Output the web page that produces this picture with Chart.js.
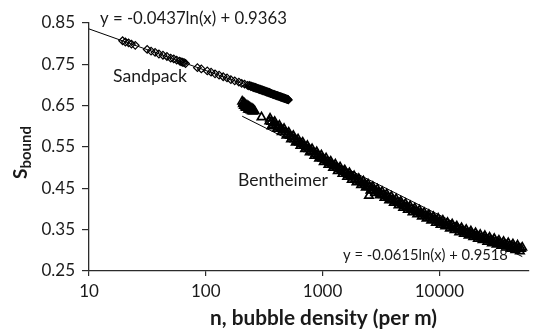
<!DOCTYPE html>
<html>
<head>
<meta charset="utf-8">
<script src="https://cdn.jsdelivr.net/npm/chart.js@4/dist/chart.umd.min.js"></script>
<style>
  html, body { margin: 0; padding: 0; background: #fff; }
  #wrap { width: 535px; height: 335px; }
</style>
</head>
<body>
<div id="wrap"><canvas id="c" width="535" height="335"></canvas></div>
<script>
// Bubble density n (per m) and bound saturation for the sandpack runs
const sandpackX = [19.4, 20.5, 21.8, 23.1, 24.9, 31.5, 34.0, 36.8, 39.7, 43.0, 46.5, 50.1, 53.2, 56.4, 59.8, 61.5, 63.4, 65.2, 67.1,
  84.8, 91.6, 103, 111, 120, 130, 141, 152, 164, 177, 192, 203, 215, 228,
  234, 243, 251, 257, 263, 269, 275, 282, 288, 295, 302, 309, 316, 324, 331, 339, 347, 355, 363, 372, 380, 389, 398, 407,
  417, 427, 437, 447, 457, 468, 479, 490, 501, 509,
  238, 247, 254, 260, 266, 272, 278, 285, 292, 298, 305, 313, 320, 327, 335, 343, 351, 359, 367, 376, 384, 393, 402, 412,
  422, 432, 442, 452, 463, 473, 484, 495, 505];
const sandpackY = [0.807, 0.804, 0.802, 0.799, 0.796, 0.786, 0.782, 0.779, 0.775, 0.772, 0.769, 0.765, 0.763, 0.760, 0.758, 0.756, 0.755, 0.754, 0.752,
  0.742, 0.739, 0.734, 0.731, 0.727, 0.724, 0.720, 0.717, 0.713, 0.710, 0.707, 0.704, 0.702, 0.699,
  0.698, 0.696, 0.695, 0.694, 0.693, 0.692, 0.691, 0.690, 0.689, 0.688, 0.687, 0.686, 0.685, 0.684, 0.683, 0.682, 0.681, 0.680, 0.679, 0.678, 0.677, 0.676, 0.675, 0.674,
  0.673, 0.672, 0.671, 0.670, 0.669, 0.668, 0.667, 0.666, 0.665, 0.664,
  0.699, 0.697, 0.696, 0.695, 0.694, 0.693, 0.692, 0.691, 0.690, 0.689, 0.688, 0.687, 0.686, 0.685, 0.684, 0.683, 0.682, 0.680, 0.679, 0.678, 0.677, 0.676, 0.675, 0.674,
  0.673, 0.672, 0.671, 0.670, 0.669, 0.668, 0.667, 0.666, 0.665];

// Bubble density n (per m) and bound saturation for the Bentheimer runs
const bentheimerX = [205, 208, 210, 212, 215, 218, 220, 222, 226, 230, 232, 235, 238, 241, 244, 247, 250, 253, 256, 262,
  300, 350, 366,
  355, 372, 389, 407, 427, 447, 468, 490, 513, 537,
  562, 589, 617, 646, 676, 708, 741, 776, 813, 851,
  891, 933, 977, 1023, 1072, 1122, 1175, 1230, 1288, 1349,
  1413, 1479, 1549, 1622, 1698, 1778, 1862, 1950, 2042, 2138,
  2239, 2344, 2455, 2570, 2692, 2818, 2951, 3090, 3236, 3388,
  3548, 3715, 3890, 4074, 4266, 4467, 4677, 4898, 5129, 5370,
  5623, 5888, 6166, 6457, 6761, 7079, 7413, 7762, 8128, 8511,
  8913, 9333, 9772, 10233, 10715, 11220, 11749, 12303, 12882, 13490,
  14125, 14791, 15488, 16218, 16982, 17783, 18621, 19498, 20417, 21380,
  22387, 23442, 24547, 25704, 26915, 28184, 29512, 30903, 32359, 33884,
  35481, 37154, 38905, 40738, 42658, 44668, 46774, 48978, 51286,
  363, 380, 398, 417, 437, 457, 479, 501, 525, 550,
  575, 603, 631, 661, 692, 724, 759, 794, 832, 871,
  912, 955, 1000, 1047, 1096, 1148, 1202, 1259, 1318, 1380,
  1445, 1514, 1585, 1660, 1738, 1820, 1905, 1995, 2089, 2188,
  2291, 2399, 2512, 2630, 2754, 2884, 3020, 3162, 3311, 3467,
  3631, 3802, 3981, 4169, 4365, 4571, 4786, 5012, 5248, 5495,
  5754, 6026, 6310, 6607, 6918, 7244, 7586, 7943, 8318, 8710,
  9120, 9550, 10000, 10471, 10965, 11482, 12023, 12589, 13183, 13804,
  14454, 15136, 15849, 16596, 17378, 18197, 19055, 19953, 20893, 21878,
  22909, 23988, 25119, 26303, 27542, 28840, 30200, 31623, 33113, 34674,
  36308, 38019, 39811, 41687, 43652, 45709, 47863, 50119,
  2495];
const bentheimerY = [0.660, 0.654, 0.657, 0.650, 0.655, 0.646, 0.652, 0.645, 0.650, 0.641, 0.648, 0.640, 0.646, 0.639, 0.644, 0.637, 0.642, 0.636, 0.640, 0.637,
  0.622, 0.612, 0.600,
  0.619, 0.603, 0.611, 0.594, 0.602, 0.586, 0.594, 0.578, 0.585, 0.569,
  0.577, 0.561, 0.569, 0.553, 0.561, 0.545, 0.553, 0.537, 0.545, 0.529,
  0.538, 0.522, 0.530, 0.514, 0.523, 0.507, 0.515, 0.500, 0.508, 0.492,
  0.501, 0.485, 0.494, 0.478, 0.487, 0.471, 0.480, 0.465, 0.473, 0.458,
  0.467, 0.452, 0.460, 0.445, 0.454, 0.439, 0.448, 0.433, 0.442, 0.427,
  0.436, 0.421, 0.430, 0.415, 0.424, 0.409, 0.418, 0.403, 0.413, 0.398,
  0.407, 0.392, 0.402, 0.387, 0.397, 0.382, 0.391, 0.377, 0.386, 0.372,
  0.381, 0.367, 0.377, 0.362, 0.372, 0.358, 0.367, 0.353, 0.363, 0.349,
  0.358, 0.344, 0.354, 0.340, 0.350, 0.336, 0.346, 0.332, 0.342, 0.328,
  0.338, 0.325, 0.335, 0.321, 0.331, 0.317, 0.328, 0.314, 0.324, 0.311,
  0.321, 0.307, 0.318, 0.304, 0.315, 0.301, 0.312, 0.298, 0.307,
  0.611, 0.607, 0.602, 0.598, 0.594, 0.590, 0.586, 0.581, 0.577, 0.573,
  0.569, 0.565, 0.561, 0.557, 0.553, 0.549, 0.545, 0.541, 0.537, 0.533,
  0.530, 0.526, 0.522, 0.518, 0.515, 0.511, 0.507, 0.504, 0.500, 0.497,
  0.493, 0.490, 0.486, 0.483, 0.479, 0.476, 0.472, 0.469, 0.466, 0.462,
  0.459, 0.456, 0.453, 0.450, 0.446, 0.443, 0.440, 0.437, 0.434, 0.431,
  0.428, 0.425, 0.422, 0.419, 0.416, 0.414, 0.411, 0.408, 0.405, 0.402,
  0.400, 0.397, 0.394, 0.392, 0.389, 0.387, 0.384, 0.382, 0.379, 0.377,
  0.374, 0.372, 0.369, 0.367, 0.365, 0.362, 0.360, 0.358, 0.356, 0.354,
  0.351, 0.349, 0.347, 0.345, 0.343, 0.341, 0.339, 0.337, 0.335, 0.333,
  0.331, 0.330, 0.328, 0.326, 0.324, 0.322, 0.321, 0.319, 0.317, 0.316,
  0.314, 0.313, 0.311, 0.310, 0.308, 0.307, 0.305, 0.304,
  0.432];

// Logarithmic fits: S = slope * ln(n) + intercept
const sandpackFit = { slope: -0.0437, intercept: 0.9363 };
const bentheimerFit = { slope: -0.0615, intercept: 0.9518 };
const sandpackFitRange = [10, 509];
const bentheimerFitRange = [205, 51286];

const xTicks = [10, 100, 1000, 10000];
const yTicks = [0.25, 0.35, 0.45, 0.55, 0.65, 0.75, 0.85];

const fitLabel = f => 'y = ' + f.slope.toFixed(4) + 'ln(x) + ' + f.intercept.toFixed(4);
const fitPoints = (f, range) => range.map(n => ({ x: n, y: f.slope * Math.log(n) + f.intercept }));
const toPoints = (xs, ys) => xs.map((x, i) => ({ x, y: ys[i] }));

const INK = '#1a1a1a';
const AXIS = '#2b2b2b';

// set a font whose rendered width of `text` is `width` pixels
function fitFont(ctx, text, width, weight) {
  ctx.font = weight + ' 100px Lato';
  const size = 100 * width / ctx.measureText(text).width;
  ctx.font = weight + ' ' + size.toFixed(2) + 'px Lato';
}

const annotations = {
  id: 'annotations',
  afterDraw(chart) {
    const ctx = chart.ctx;
    ctx.save();
    ctx.fillStyle = INK;
    ctx.textBaseline = 'middle';
    ctx.textAlign = 'left';

    const topEq = fitLabel(sandpackFit);
    fitFont(ctx, topEq, 187, 'normal');
    ctx.fillText(topEq, 100, 19);

    fitFont(ctx, 'Sandpack', 74, 'normal');
    ctx.fillText('Sandpack', 113, 76);

    fitFont(ctx, 'Bentheimer', 90, 'normal');
    ctx.fillText('Bentheimer', 238, 180);

    const lowEq = fitLabel(bentheimerFit);
    fitFont(ctx, lowEq, 165, 'normal');
    ctx.fillText(lowEq, 343, 255);

    // x-axis title
    const xTitle = 'n, bubble density (per m)';
    fitFont(ctx, xTitle, 227, 'bold');
    ctx.textAlign = 'center';
    ctx.fillText(xTitle, 323.5, 318);

    // y-axis title with subscript
    ctx.translate(27, 179);
    ctx.rotate(-Math.PI / 2);
    ctx.textAlign = 'left';
    ctx.textBaseline = 'alphabetic';
    ctx.font = 'bold 19px Lato';
    ctx.fillText('S', 0, 0);
    const w = ctx.measureText('S').width;
    ctx.font = 'bold 15px Lato';
    ctx.fillText('bound', w, 4);
    ctx.restore();
  }
};

new Chart(document.getElementById('c'), {
  type: 'scatter',
  data: {
    datasets: [
      {
        label: 'Sandpack',
        data: toPoints(sandpackX, sandpackY),
        pointStyle: 'rectRot',
        pointRadius: 3.8,
        borderColor: '#000',
        backgroundColor: 'rgba(255,255,255,0)',
        borderWidth: 1.2
      },
      {
        label: 'Bentheimer',
        data: toPoints(bentheimerX, bentheimerY),
        pointStyle: 'triangle',
        pointRadius: 4.8,
        borderColor: '#000',
        backgroundColor: 'rgba(255,255,255,0)',
        borderWidth: 1.7
      },
      {
        label: 'Sandpack fit',
        data: fitPoints(sandpackFit, sandpackFitRange),
        showLine: true,
        pointRadius: 0,
        borderColor: '#000',
        borderWidth: 1
      },
      {
        label: 'Bentheimer fit',
        data: fitPoints(bentheimerFit, bentheimerFitRange),
        showLine: true,
        pointRadius: 0,
        borderColor: '#000',
        borderWidth: 1
      }
    ]
  },
  options: {
    responsive: false,
    animation: false,
    devicePixelRatio: 1,
    layout: { padding: { top: 23, right: 0, bottom: 0, left: 0 } },
    plugins: { legend: { display: false }, tooltip: { enabled: false } },
    scales: {
      x: {
        type: 'logarithmic',
        min: 10,
        max: 58000,
        afterBuildTicks: s => { s.ticks = xTicks.map(v => ({ value: v })); },
        afterFit: s => { s.height = 64; },
        ticks: {
          callback: v => String(v),
          autoSkip: false,
          maxRotation: 0,
          color: INK,
          padding: 5,
          font: { family: 'Lato', size: 17 }
        },
        grid: { drawOnChartArea: false, drawTicks: true, tickLength: 5, color: AXIS, lineWidth: 1.2 },
        border: { color: AXIS, width: 1.3 }
      },
      y: {
        type: 'linear',
        min: 0.25,
        max: 0.85,
        afterBuildTicks: s => { s.ticks = yTicks.map(v => ({ value: v })); },
        afterFit: s => { s.width = 89; },
        ticks: {
          callback: v => v.toFixed(2),
          color: INK,
          padding: 7,
          font: { family: 'Lato', size: 17 }
        },
        grid: { drawOnChartArea: false, drawTicks: true, tickLength: 7, color: AXIS, lineWidth: 1.2 },
        border: { color: AXIS, width: 1.3 }
      }
    }
  },
  plugins: [annotations]
});
</script>
</body>
</html>
